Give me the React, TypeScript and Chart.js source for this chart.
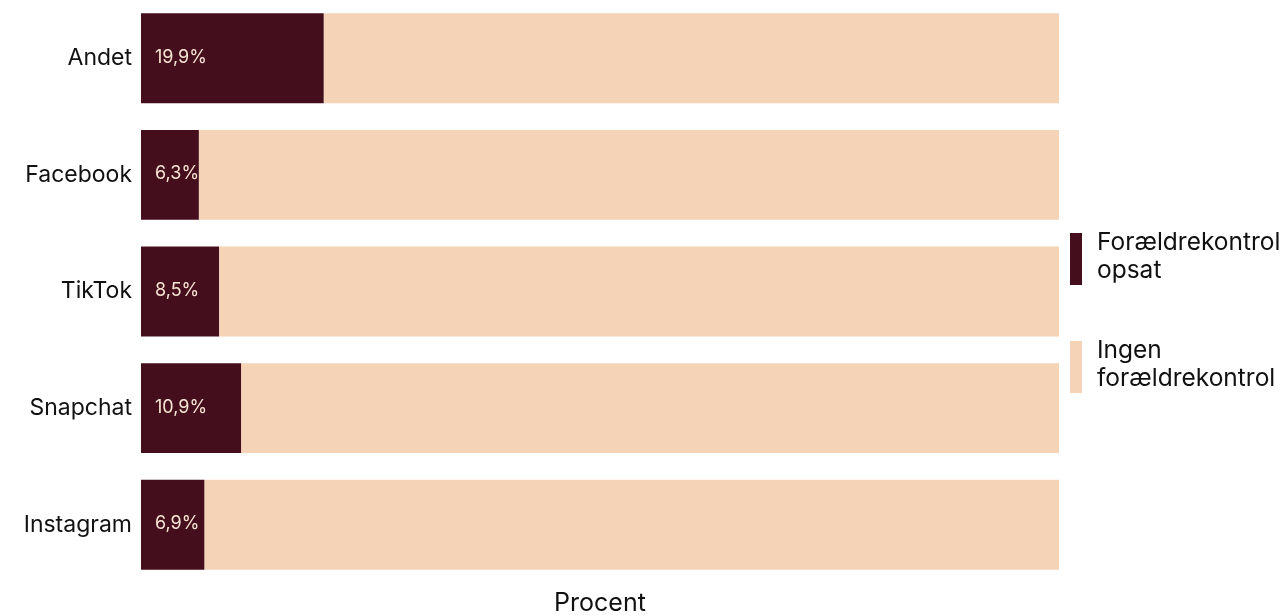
import React, { useEffect, useRef } from "react";
import { Chart, registerables } from "chart.js";

Chart.register(...registerables);

const categories = ["Andet", "Facebook", "TikTok", "Snapchat", "Instagram"];
const withControl = [19.9, 6.3, 8.5, 10.9, 6.9];
const withoutControl = [80.1, 93.7, 91.5, 89.1, 93.1];
const seriesLabels = [["Forældrekontrol", "opsat"], ["Ingen", "forældrekontrol"]];
const axisTitle = "Procent";

const DARK = "#450e1c";
const LIGHT = "#f5d3b6";
const FONT = "Inter, 'Noto Sans', sans-serif";

const valueLabelPlugin = {
  id: "valueLabels",
  afterDatasetsDraw(chart: any) {
    const ctx = chart.ctx;
    const meta = chart.getDatasetMeta(0);
    ctx.save();
    ctx.font = `18px ${FONT}`;
    ctx.fillStyle = "#f7e4d4";
    ctx.textAlign = "left";
    ctx.textBaseline = "middle";
    meta.data.forEach((bar: any, i: number) => {
      const x0 = chart.scales.x.getPixelForValue(0);
      ctx.fillText(withControl[i].toFixed(1).replace(".", ",") + "%", x0 + 14, bar.y - 1);
    });
    ctx.restore();
  },
};

const customLegendPlugin = {
  id: "customLegend",
  afterDraw(chart: any) {
    const ctx = chart.ctx;
    const colors = [DARK, LIGHT];
    const x = chart.chartArea.right + 11;
    const tops = [233, 341];
    const lineH = 28;
    ctx.save();
    ctx.font = `24.5px ${FONT}`;
    ctx.textBaseline = "middle";
    ctx.textAlign = "left";
    seriesLabels.forEach((lines, i) => {
      ctx.fillStyle = colors[i];
      ctx.fillRect(x, tops[i], 12, 52);
      ctx.fillStyle = "#111111";
      lines.forEach((t, j) => {
        ctx.fillText(t, x + 27, tops[i] + 10 + j * lineH);
      });
    });
    ctx.restore();
  },
};

export default function App() {
  const ref = useRef<HTMLCanvasElement>(null);
  useEffect(() => {
    if (!ref.current) return;
    const chart = new Chart(ref.current, {
      type: "bar",
      data: {
        labels: categories,
        datasets: [
          {
            label: seriesLabels[0].join(" "),
            data: withControl,
            backgroundColor: DARK,
            borderWidth: 0,
            barPercentage: 0.771,
            categoryPercentage: 1,
          },
          {
            label: seriesLabels[1].join(" "),
            data: withoutControl,
            backgroundColor: LIGHT,
            borderWidth: 0,
            barPercentage: 0.771,
            categoryPercentage: 1,
          },
        ],
      },
      options: {
        indexAxis: "y",
        animation: false,
        responsive: false,
        maintainAspectRatio: false,
        layout: { padding: { top: 0, right: 225, bottom: 0, left: 0 } },
        plugins: {
          legend: { display: false },
          tooltip: { enabled: false },
        },
        scales: {
          x: {
            stacked: true,
            min: 0,
            max: 100,
            ticks: { display: false },
            grid: { display: false, drawTicks: false },
            border: { display: false },
            title: {
              display: true,
              text: axisTitle,
              color: "#111111",
              font: { family: FONT, size: 25 },
              padding: { top: 5, bottom: -2 },
            },
          },
          y: {
            stacked: true,
            grid: { display: false, drawTicks: false },
            border: { display: false },
            ticks: {
              color: "#111111",
              font: { family: FONT, size: 23 },
              padding: 9,
            },
            afterFit: (s: any) => {
              s.width = 141;
              s.paddingTop = 0;
              s.paddingBottom = 0;
            },
          },
        },
      },
      plugins: [valueLabelPlugin, customLegendPlugin],
    } as any);
    return () => chart.destroy();
  }, []);
  return (
    <div style={{ position: "absolute", left: 0, top: 0, width: 1284, height: 616, background: "#fff" }}>
      <canvas ref={ref} width={1284} height={616} style={{ width: 1284, height: 616 }} />
    </div>
  );
}
